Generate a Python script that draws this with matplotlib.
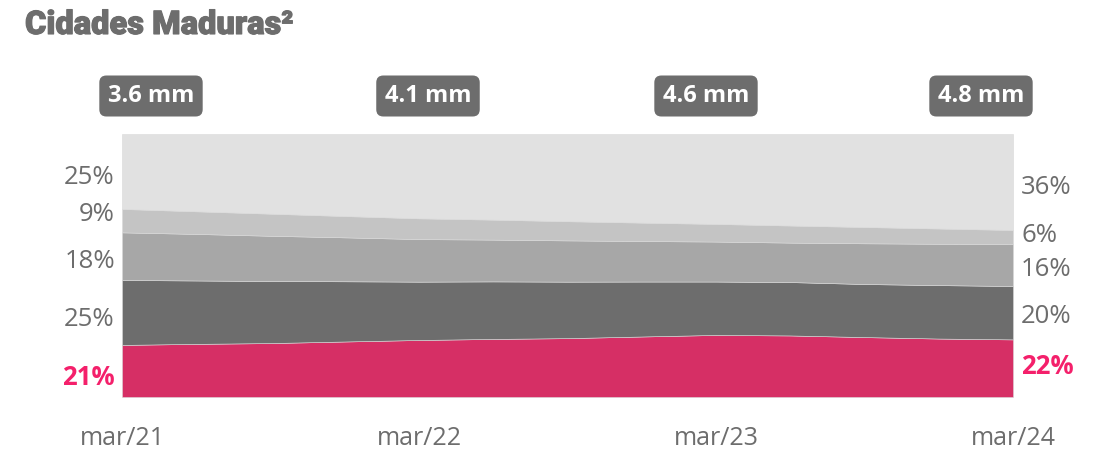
import numpy as np
import matplotlib
matplotlib.use('Agg')
import matplotlib.pyplot as plt
import matplotlib.patheffects as pe

# quarterly shares (%), bottom layer first
quarters = ['mar/21', 'jun/21', 'set/21', 'dez/21',
            'mar/22', 'jun/22', 'set/22', 'dez/22',
            'mar/23', 'jun/23', 'set/23', 'dez/23', 'mar/24']
pink = [19.8, 20.2, 20.5, 21.1, 21.7, 22.1, 22.4, 23.0, 23.6, 23.4, 22.8, 22.2, 21.9]
dark = [24.7, 24.1, 23.6, 22.9, 22.2, 21.9, 21.5, 20.9, 20.3, 20.3, 20.2, 20.3, 20.3]
medium = [18.1, 17.7, 17.2, 16.7, 16.2, 15.9, 15.7, 15.4, 15.2, 15.0, 15.5, 15.7, 15.9]
light = [8.9, 8.6, 8.4, 8.1, 7.9, 7.6, 7.3, 7.0, 6.7, 6.5, 6.2, 5.8, 5.4]
top = [28.5, 29.4, 30.3, 31.2, 32.1, 32.6, 33.2, 33.7, 34.2, 34.8, 35.4, 35.9, 36.5]

tick_labels = ['mar/21', 'mar/22', 'mar/23', 'mar/24']
totals = ['3.6 mm', '4.1 mm', '4.6 mm', '4.8 mm']
left_labels = ['21%', '25%', '18%', '9%', '25%']
right_labels = ['22%', '20%', '16%', '6%', '36%']

colors = ['#D62F65', '#6D6D6D', '#A7A7A7', '#C4C4C4', '#E1E1E1']
text_gray = '#6D6D6D'
pink_text = '#F4206B'

plt.rcParams['font.family'] = ['Open Sans', 'DejaVu Sans']

layers = np.array([pink, dark, medium, light, top])
layers = layers / layers.sum(axis=0) * 100
x = np.arange(len(quarters))

fig = plt.figure(figsize=(11.07, 4.5), dpi=100)
ax = fig.add_axes([0.1102, 0.1178, 0.8049, 0.5844])
ax.stackplot(x, layers, colors=colors, edgecolor='#D9D9D9', linewidth=0.4)
ax.set_xlim(0, len(quarters) - 1)
ax.set_ylim(0, 100)
for s in ax.spines.values():
    s.set_visible(False)
ax.set_yticks([])
ax.set_xticks([i for i, q in enumerate(quarters) if q in tick_labels])
ax.set_xticklabels(tick_labels, fontsize=18, color=text_gray)
ax.tick_params(axis='x', length=0, pad=21)

# labels on both sides
left_y = [7.5, 29.5, 51.5, 69.5, 83.5]
right_y = [11.5, 30.5, 48.5, 61.5, 79.5]
for i, lab in enumerate(left_labels):
    first = i == 0
    ax.text(-0.008, left_y[i], lab, ha='right', va='center', fontsize=18.5,
            color=pink_text if first else text_gray,
            fontweight='bold' if first else 'normal',
            transform=ax.get_yaxis_transform())
for i, lab in enumerate(right_labels):
    first = i == 0
    ax.text(1.009, right_y[i], lab, ha='left', va='center', fontsize=18.5,
            color=pink_text if first else text_gray,
            fontweight='bold' if first else 'normal',
            transform=ax.get_yaxis_transform())

# totals boxes above the chart
box_x = [151, 428, 706, 981]
for bx, t in zip(box_x, totals):
    fig.text(bx / 1107, 1 - 96 / 450, t, ha='center', va='center',
             fontsize=17, fontweight='bold', color='white',
             bbox=dict(boxstyle='round,pad=0.36,rounding_size=0.3',
                       fc=text_gray, ec='none'))

fig.text(25 / 1107, 1 - 25 / 450, 'Cidades Maduras²', ha='left', va='center',
         fontsize=23.5, fontweight='black', color=text_gray,
         family=['Roboto', 'DejaVu Sans'],
         path_effects=[pe.withStroke(linewidth=0.8, foreground=text_gray)])

fig.savefig('out.png', dpi=100)
